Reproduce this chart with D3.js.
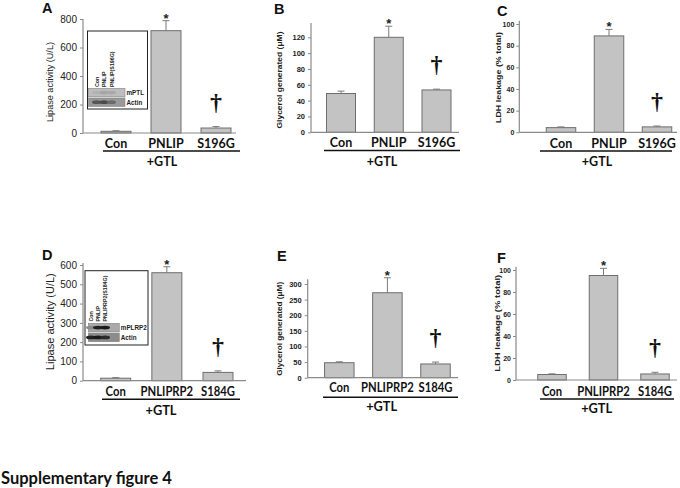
<!DOCTYPE html>
<html><head><meta charset="utf-8">
<script src="https://cdn.jsdelivr.net/npm/d3@7"></script>
<style>html,body{margin:0;padding:0;background:#fff;} svg{display:block;}</style>
</head><body>
<svg id="fig" width="680" height="488"></svg>
<script>
// ---------------- data ----------------
const categoriesTop = ["Con", "PNLIP", "S196G"];
const categoriesBottom = ["Con", "PNLIPRP2", "S184G"];
const groupLabel = "+GTL";
const markers = ["", "*", "\u2020"];   // * vs Con, † vs wild type

const lipaseTop = [12, 718, 35];
const lipaseTopErr = [4, 70, 10];
const glycerolTop = [49, 120, 53.5];
const glycerolTopErr = [3, 14, 1];
const ldhTop = [4.3, 89, 5];
const ldhTopErr = [0.7, 6, 0.8];

const lipaseBottom = [13, 560, 43];
const lipaseBottomErr = [3, 31, 8];
const glycerolBottom = [48, 272, 44];
const glycerolBottomErr = [3, 48, 6];
const ldhBottom = [5, 95, 5.5];
const ldhBottomErr = [0.6, 6.5, 1.5];

const lipaseTopTicks = [0, 200, 400, 600, 800];
const glycerolTopTicks = [0, 20, 40, 60, 80, 100, 120];
const ldhTicks = [0, 20, 40, 60, 80, 100];
const lipaseBottomTicks = [0, 100, 200, 300, 400, 500, 600];
const glycerolBottomTicks = [0, 50, 100, 150, 200, 250, 300];

const yLabelLipase = "Lipase activity (U/L)";
const yLabelGlycerol = "Glycerol generated (\u03bcM)";
const yLabelLdh = "LDH leakage (% total)";
const panelLetters = ["A", "B", "C", "D", "E", "F"];
const caption = "Supplementary figure 4";

const insetTop = {lanes: ["Con", "PNLIP", "PNLIP(S196G)"], bands: ["mPTL", "Actin"]};
const insetBottom = {lanes: ["Con", "PNLIP", "PNLIPRP2(S184G)"], bands: ["mPLRP2", "Actin"]};

// ---------------- drawing ----------------
const svg = d3.select("#fig");
const SANS = "'Liberation Sans', Arial, sans-serif";
const LABEL = "Lato, 'Open Sans', sans-serif";
const BAR_FILL = "#c3c3c3", BAR_STROKE = "#6e6e6e", AXIS = "#8a8a8a";

function squeeze(sel, factor) {
  sel.each(function () {
    const w = this.getComputedTextLength();
    if (factor !== 1) d3.select(this).attr("textLength", w * factor).attr("lengthAdjust", "spacingAndGlyphs");
  });
}

function panel(c) {
  const g = svg.append("g");
  const y = d3.scaleLinear().domain([0, c.tickMax]).range([c.y0, c.yTop]);
  const x = d3.scalePoint().domain(c.cats).range([c.c0, c.c2]);

  // bars
  g.selectAll("rect.bar").data(c.values).join("rect")
    .attr("x", (d, i) => x(c.cats[i]) - c.bw / 2)
    .attr("y", d => y(d))
    .attr("width", c.bw)
    .attr("height", d => y(0) - y(d))
    .attr("fill", BAR_FILL).attr("stroke", BAR_STROKE).attr("stroke-width", 1);

  // error bars (upper) and significance marks
  c.values.forEach((v, i) => {
    const cx = x(c.cats[i]);
    const top = y(v + c.errs[i]);
    g.append("line").attr("x1", cx).attr("x2", cx).attr("y1", y(v)).attr("y2", top)
      .attr("stroke", "#7a7a7a").attr("stroke-width", 1);
    g.append("line").attr("x1", cx - 3.5).attr("x2", cx + 3.5).attr("y1", top).attr("y2", top)
      .attr("stroke", "#7a7a7a").attr("stroke-width", 1);
    const m = markers[i];
    if (m === "*") {
      g.append("text").attr("x", cx).attr("y", top + 2).attr("text-anchor", "middle")
        .attr("font-family", SANS).attr("font-weight", "bold").attr("font-size", 13)
        .attr("fill", "#222").text(m);
    } else if (m) {
      g.append("text").attr("x", cx).attr("y", top - 17).attr("text-anchor", "middle")
        .attr("font-family", "'Liberation Serif', serif").attr("font-weight", "bold").attr("font-size", 24)
        .attr("fill", "#111").text(m);
    }
  });

  // y axis
  const yAxis = d3.axisLeft(y).tickValues(c.ticks).tickSizeInner(3).tickSizeOuter(0).tickPadding(c.pad);
  const ga = g.append("g").attr("transform", `translate(${c.ax},0)`).call(yAxis);
  ga.select(".domain").remove();
  ga.selectAll(".tick line").attr("stroke", AXIS);
  ga.selectAll(".tick text").attr("font-family", SANS).attr("font-size", c.tickSize)
    .attr("font-weight", c.bold ? "bold" : "normal").attr("fill", "#222");
  g.append("line").attr("x1", c.ax).attr("x2", c.ax).attr("y1", y(0)).attr("y2", y(c.axisTop))
    .attr("stroke", AXIS).attr("stroke-width", 1.2);
  g.append("line").attr("x1", c.ax).attr("x2", c.xEnd).attr("y1", y(0)).attr("y2", y(0))
    .attr("stroke", AXIS).attr("stroke-width", 1.2);

  // y label (stretched along its length like the source figure)
  g.append("text")
    .attr("transform", `translate(${c.ylx + 0.36 * c.ylSize},${c.yly}) rotate(-90)`)
    .attr("text-anchor", "middle").attr("font-family", SANS).attr("font-size", c.ylSize)
    .attr("font-weight", c.bold ? "bold" : "normal").attr("fill", "#222")
    .attr("textLength", c.ylLen).attr("lengthAdjust", "spacingAndGlyphs")
    .text(c.ylabel);

  // category labels
  const cat = g.selectAll("text.cat").data(c.cats).join("text")
    .attr("x", d => x(d)).attr("y", c.catY).attr("text-anchor", "middle")
    .attr("font-family", LABEL).attr("font-weight", "bold").attr("font-size", c.catSize)
    .attr("fill", "#111").text(d => d);
  squeeze(cat, c.squeeze);
  g.append("line").attr("x1", c.ul[0]).attr("x2", c.ul[1]).attr("y1", c.ulY).attr("y2", c.ulY)
    .attr("stroke", "#111").attr("stroke-width", 1.6);
  g.append("text").attr("x", c.gtlX).attr("y", c.gtlY).attr("text-anchor", "middle")
    .attr("font-family", LABEL).attr("font-weight", "bold").attr("font-size", c.catSize)
    .attr("fill", "#111").text(groupLabel);

  // panel letter
  g.append("text").attr("x", c.lx).attr("y", c.ly).attr("font-family", SANS)
    .attr("font-weight", "bold").attr("font-size", 14.5).attr("fill", "#111").text(c.letter);
}

function inset(c) {
  const g = svg.append("g");
  g.append("rect").attr("x", c.x0).attr("y", c.y0).attr("width", c.x1 - c.x0).attr("height", c.y1 - c.y0)
    .attr("fill", "#fff").attr("stroke", "#222").attr("stroke-width", 1);
  const lx = d3.scalePoint().domain(c.info.lanes).range([c.laneX0, c.laneX1]);
  c.info.lanes.forEach(l => {
    g.append("text").attr("transform", `translate(${lx(l) + 2},${c.laneBottom}) rotate(-90)`)
      .attr("font-family", SANS).attr("font-weight", "bold").attr("font-size", c.laneSize)
      .attr("fill", "#222").text(l);
  });
  const bandY = d3.scaleBand().domain(c.info.bands).range([c.bandTop, c.bandBottom]).paddingInner(0.12);
  c.info.bands.forEach((b, bi) => {
    g.append("rect").attr("x", c.bx0).attr("y", bandY(b)).attr("width", c.bx1 - c.bx0)
      .attr("height", bandY.bandwidth()).attr("fill", c.bandFill[bi]).attr("stroke", "#777").attr("stroke-width", 0.5);
    c.info.lanes.forEach((l, li) => {
      g.append("ellipse").attr("cx", lx(l)).attr("cy", bandY(b) + bandY.bandwidth() / 2)
        .attr("rx", c.blobRx).attr("ry", bandY.bandwidth() * 0.22)
        .attr("fill", c.blobFill[bi][li]);
    });
    g.append("text").attr("x", c.bx1 + 1.5).attr("y", bandY(b) + bandY.bandwidth() / 2 + 2.3)
      .attr("font-family", SANS).attr("font-weight", "bold").attr("font-size", c.bandSize)
      .attr("fill", "#222").text(b);
  });
}

panel({cats: categoriesTop, values: lipaseTop, errs: lipaseTopErr, ticks: lipaseTopTicks,
  tickMax: 800, axisTop: 800, y0: 133, yTop: 19, ax: 83, c0: 116, c2: 216, bw: 30, xEnd: 236,
  pad: 3, tickSize: 10, bold: false, ylabel: yLabelLipase, ylSize: 9.2, ylLen: 80, ylx: 50, yly: 82,
  catY: 148, catSize: 12.5, squeeze: 1, ul: [103, 240], ulY: 151, gtlX: 162, gtlY: 166, lx: 42, ly: 12.5, letter: panelLetters[0]});
panel({cats: categoriesTop, values: glycerolTop, errs: glycerolTopErr, ticks: glycerolTopTicks,
  tickMax: 120, axisTop: 138, y0: 132.3, yTop: 37.3, ax: 311, c0: 341, c2: 436.5, bw: 29, xEnd: 459,
  pad: 3, tickSize: 7.5, bold: true, ylabel: yLabelGlycerol, ylSize: 7.8, ylLen: 97, ylx: 279, yly: 80,
  catY: 147, catSize: 12.5, squeeze: 1, ul: [324, 460], ulY: 150.5, gtlX: 382, gtlY: 166, lx: 274, ly: 13.5, letter: panelLetters[1]});
panel({cats: categoriesTop, values: ldhTop, errs: ldhTopErr, ticks: ldhTicks,
  tickMax: 100, axisTop: 103, y0: 132.3, yTop: 24, ax: 519.3, c0: 561, c2: 657, bw: 29.5, xEnd: 677,
  pad: 2, tickSize: 7, bold: true, ylabel: yLabelLdh, ylSize: 7.5, ylLen: 91, ylx: 498.5, yly: 77.5,
  catY: 147.5, catSize: 12.5, squeeze: 1, ul: [540, 672], ulY: 151, gtlX: 597, gtlY: 166, lx: 497, ly: 15.5, letter: panelLetters[2]});
panel({cats: categoriesBottom, values: lipaseBottom, errs: lipaseBottomErr, ticks: lipaseBottomTicks,
  tickMax: 600, axisTop: 610, y0: 380.7, yTop: 265, ax: 83, c0: 115.7, c2: 218, bw: 30, xEnd: 246,
  pad: 3, tickSize: 10, bold: false, ylabel: yLabelLipase, ylSize: 10.5, ylLen: 97, ylx: 50, yly: 321.7,
  catY: 395.5, catSize: 12.8, squeeze: 0.88, ul: [102, 240], ulY: 399.3, gtlX: 161, gtlY: 415, lx: 42, ly: 259.5, letter: panelLetters[3]});
panel({cats: categoriesBottom, values: glycerolBottom, errs: glycerolBottomErr, ticks: glycerolBottomTicks,
  tickMax: 300, axisTop: 315, y0: 377.7, yTop: 284, ax: 307.7, c0: 339.3, c2: 435.5, bw: 29.5, xEnd: 458,
  pad: 3, tickSize: 7.5, bold: true, ylabel: yLabelGlycerol, ylSize: 7.8, ylLen: 94, ylx: 279.5, yly: 328.8,
  catY: 392, catSize: 12.8, squeeze: 0.88, ul: [323, 458], ulY: 397.3, gtlX: 381.7, gtlY: 410.7, lx: 277, ly: 261, letter: panelLetters[4]});
panel({cats: categoriesBottom, values: ldhBottom, errs: ldhBottomErr, ticks: ldhTicks,
  tickMax: 100, axisTop: 103, y0: 380, yTop: 270, ax: 516, c0: 552, c2: 655, bw: 28.5, xEnd: 677,
  pad: 2, tickSize: 7, bold: true, ylabel: yLabelLdh, ylSize: 7.5, ylLen: 97, ylx: 497.5, yly: 323.3,
  catY: 395.7, catSize: 12.8, squeeze: 0.88, ul: [540, 674], ulY: 399, gtlX: 596.7, gtlY: 413, lx: 497, ly: 262.7, letter: panelLetters[5]});

inset({info: insetTop, x0: 87.5, y0: 31, x1: 147.5, y1: 109, laneX0: 96.5, laneX1: 111.5, laneBottom: 87,
  laneSize: 5.3, bandTop: 88.3, bandBottom: 106.5, bx0: 88.5, bx1: 125, bandSize: 6.3, blobRx: 4.5,
  bandFill: ["#bdbdbd", "#999"], blobFill: [["#b2b2b2", "#a5a5a5", "#a8a8a8"], ["#555", "#4a4a4a", "#6a6a6a"]]});
inset({info: insetBottom, x0: 85, y0: 270.7, x1: 148, y1: 345, laneX0: 91, laneX1: 105, laneBottom: 321.5,
  laneSize: 5.3, bandTop: 323.3, bandBottom: 341.7, bx0: 88.3, bx1: 119.3, bandSize: 6.3, blobRx: 5,
  bandFill: ["#a9a9a9", "#8c8c8c"], blobFill: [["#8a8a8a", "#222", "#1a1a1a"], ["#222", "#1a1a1a", "#2a2a2a"]]});

svg.append("text").attr("x", 1).attr("y", 484).attr("font-family", LABEL).attr("font-weight", "bold")
  .attr("font-size", 16.5).attr("fill", "#111").text(caption);
</script>
</body></html>
